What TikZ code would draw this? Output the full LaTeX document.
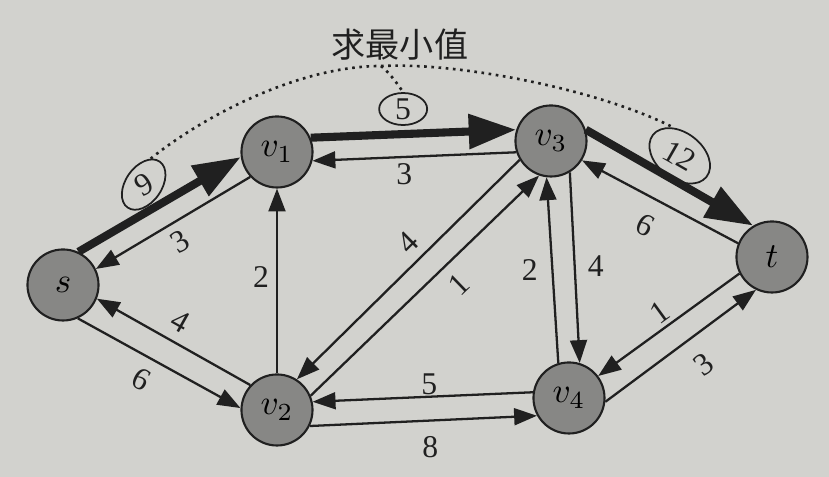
\documentclass[tikz,border=0pt]{standalone}
\usepackage{fontspec}
\setmainfont{Liberation Serif}
\newfontfamily\cjk{Noto Sans CJK SC}
\usetikzlibrary{
    arrows.meta,
    shapes.geometric
}
\definecolor{paper}{RGB}{210,210,206}
\definecolor{ink}{RGB}{32,32,32}
\definecolor{nodegray}{RGB}{135,135,133}
\tikzset{
    vertex/.style={circle, draw=ink, fill=nodegray, line width=0.6pt,
        minimum size=0.71cm, inner sep=0pt, font=\fontsize{10}{12}\selectfont},
    flow/.style={draw=ink, line width=0.65pt, -{Triangle[length=6.5pt,width=4.8pt]}},
    heavy/.style={draw=ink, line width=2.3pt, -{Triangle[length=13.5pt,width=9.5pt]}},
    wt/.style={font=\fontsize{9}{11}\selectfont, inner sep=1pt, text=ink},
    slant/.style={wt, sloped},
    loopmark/.style={ellipse, draw=ink, line width=0.5pt, inner sep=0pt},
    hint/.style={draw=ink, line width=0.75pt, dash pattern=on 0.75pt off 1.3pt}
}

\begin{document}
\begin{tikzpicture}[x=0.01cm, y=-0.01cm]
        \fill[paper] (0,0) rectangle (829,477);
        \useasboundingbox (0,0) rectangle (829,477);

        \draw ( 63,285) node[vertex](s){$s$};
        \draw (277,152) node[vertex](v1){$v_1$};
        \draw (551,141) node[vertex](v3){$v_3$};
        \draw (772,257) node[vertex](t){$t$};
        \draw (277,410) node[vertex](v2){$v_2$};
        \draw (569,398) node[vertex](v4){$v_4$};

        % augmenting path s -> v1 -> v3 -> t
        \draw[heavy] (s.65) to node[slant, pos=.48, above=0.07cm](sv1){9} (v1.188);
        \draw[heavy] (v1.23) to node[wt, pos=.45, above=0.07cm](v1v3){5} (v3.162);
        \draw[heavy] (v3.18) to node[slant, pos=.49, above=0.06cm](v3t){12} (t.121);

        \draw[flow] (v1.223) to node[slant, pos=.52, below=0.04cm](v1s){3} (s.26);
        \draw[flow] (v3.198) to node[wt, pos=.55, below=0.02cm](v3v1){3} (v1.-14);
        \draw[flow] (t.158) to node[slant, pos=.51, below=0.12cm](tv3){6} (v3.-32);

        \draw[flow] (v2.137) to node[slant, pos=.52, above=0.06cm](v2s){4} (s.-22);
        \draw[flow] (s.-66) to node[slant, pos=.46, below=0.07cm](sv2){6} (v2.177);
        \draw[flow] (v2.north) to node[wt, pos=.52, left=0.035cm](v2v1){2} (v1.south);

        \draw[flow] (v3.211) to node[slant, pos=.44, above=0.04cm](v3v2){4} (v2.57);
        \draw[flow] (v2.23) to node[slant, pos=.58, below=0.08cm](v2v3){1} (v3.251);

        \draw[flow] (v4.107) to node[wt, pos=.5, left=0.1cm](v4v3){2} (v3.263);
        \draw[flow] (v3.301) to node[wt, pos=.49, right=0.085cm](v3v4){4} (v4.73);

        \draw[flow] (t.207) to node[slant, pos=.5, above=0cm](tv4){1} (v4.37);
        \draw[flow] (v4.-6) to node[slant, pos=.54, below=0.14cm](v4t){3} (t.244);

        \draw[flow] (v4.171) to node[wt, pos=.47, above=-0.03cm](v4v2){5} (v2.13);
        \draw[flow] (v2.-26) to node[wt, pos=.53, below=0.11cm](v2v4){8} (v4.209);

        % loops round the capacities of the path
        \node[loopmark, rotate=55, minimum width=0.56cm, minimum height=0.36cm] (l9) at (sv1) {};
        \node[loopmark, minimum width=0.48cm, minimum height=0.32cm] (l5) at (v1v3) {};
        \node[loopmark, rotate=-38, minimum width=0.68cm, minimum height=0.46cm] (l12) at (v3t) {};

        \draw (400,45) node[text=ink, font=\fontsize{9.7}{12}\selectfont\cjk](note){求最小值};
        \coordinate (crest) at (381,66);
        \draw[hint] (l9.20) .. controls (205,115) and (300,66) .. (crest)
                            .. controls (460,62) and (600,90) .. (l12.140);
        \draw[hint] (crest) .. controls (392,75) and (400,88) .. (l5.north);
    \end{tikzpicture}
\end{document}
